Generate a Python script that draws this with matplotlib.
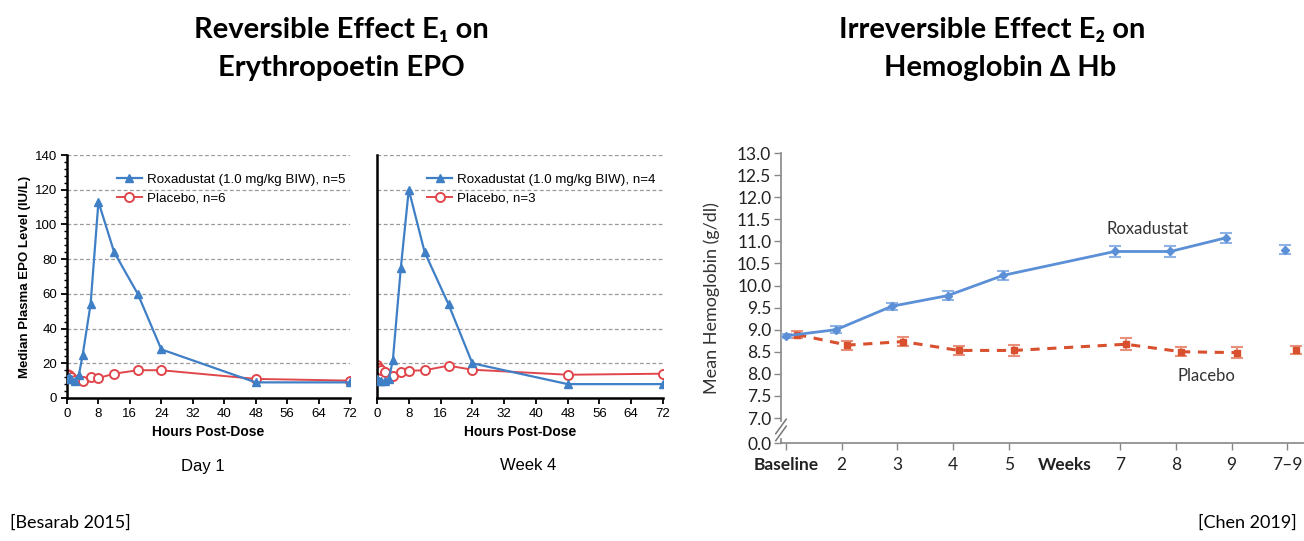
import numpy as np
import matplotlib.pyplot as plt
from matplotlib.ticker import MultipleLocator

W, H = 1304, 541

# EPO panels (Besarab 2015)
hours = [0, 0.5, 1, 2, 3, 4, 6, 8, 12, 18, 24, 48, 72]
roxa_day1 = [11, 12, 11, 10, 13, 25, 54, 113, 84, 60, 28, 9, 9]
plac_hours = [0, 0.5, 1, 2, 4, 6, 8, 12, 18, 24, 48, 72]
plac_day1 = [14, 13, 12, 10.5, 10, 12, 11.5, 14, 16, 16, 11, 10]
roxa_week4 = [11, 9.6, 9.6, 10, 11, 22, 75, 120, 84, 54, 20, 8, 8]
plac_week4 = [19, 17, 16, 15, 12.5, 14.8, 15.7, 16, 18.6, 16.3, 13.4, 14]

# Hemoglobin panel (Chen 2019)
week_labels = ['Baseline', '2', '3', '4', '5', 'Weeks', '7', '8', '9', '7\u20139']
roxa_x = [1.0, 1.9, 2.9, 3.9, 4.9, 6.9, 7.9, 8.9, 9.95]
roxa_hb = [8.86, 9.0, 9.53, 9.77, 10.23, 10.77, 10.77, 11.08, 10.81]
roxa_err = [0.05, 0.08, 0.08, 0.1, 0.1, 0.12, 0.12, 0.12, 0.1]
plac_x = [1.2, 2.1, 3.1, 4.1, 5.1, 7.1, 8.1, 9.1, 10.15]
plac_hb = [8.89, 8.65, 8.73, 8.53, 8.53, 8.67, 8.5, 8.48, 8.54]
plac_err = [0.08, 0.1, 0.1, 0.1, 0.12, 0.14, 0.1, 0.12, 0.1]

BLUE = '#3f7fc6'
RED = '#e0474c'
HB_BLUE = '#5b8fd6'
HB_RED = '#d9502f'
ARIAL = ['Liberation Sans', 'DejaVu Sans']
LATO = ['Lato', 'DejaVu Sans']


def px(x, y):
    return x / W, 1 - y / H


def epo_panel(ax, rox, plac, n_rox, n_plac, show_y):
    ax.set_xlim(0, 72)
    ax.set_ylim(0, 140)
    ax.set_yticks(np.arange(0, 141, 20))
    ax.yaxis.set_minor_locator(MultipleLocator(4))
    ax.set_xticks(np.arange(0, 73, 8))
    for y in range(20, 141, 20):
        ax.axhline(y, color='#9a9a9a', lw=0.9, ls=(0, (3, 2)), zorder=0)
    ax.plot(hours, rox, color=BLUE, lw=1.6, marker='^', ms=6,
            label=f'Roxadustat (1.0 mg/kg BIW), n={n_rox}', zorder=3)
    ax.plot(plac_hours, plac, color=RED, lw=1.4, marker='o', ms=6.5,
            mfc='white', mec=RED, mew=1.4, label=f'Placebo, n={n_plac}', zorder=2)
    for s in ['top', 'right']:
        ax.spines[s].set_visible(False)
    for s in ['left', 'bottom']:
        ax.spines[s].set_linewidth(1.8)
    ax.tick_params(axis='both', which='major', length=4, width=1.3,
                   labelsize=9.5, pad=3)
    ax.tick_params(axis='y', which='minor', length=2, width=1)
    for lab in ax.get_xticklabels() + ax.get_yticklabels():
        lab.set_family(ARIAL)
    if not show_y:
        ax.tick_params(axis='y', which='both', length=0, labelleft=False)
    ax.set_xlabel('Hours Post-Dose', fontsize=10, fontweight='bold',
                  family=ARIAL, labelpad=4)
    ax.legend(frameon=False, loc='upper left', bbox_to_anchor=(0.175, 0.925),
              borderpad=0, borderaxespad=0, handlelength=1.9,
              handletextpad=0.35, labelspacing=0.5,
              prop={'family': ARIAL, 'size': 9.6})


def main():
    fig = plt.figure(figsize=(W / 100, H / 100), dpi=100)

    ax1 = fig.add_axes([67 / W, 143 / H, 283 / W, 243 / H])
    epo_panel(ax1, roxa_day1, plac_day1, 5, 6, True)
    ax1.set_ylabel('Median Plasma EPO Level (IU/L)', fontsize=9.5,
                   fontweight='bold', family=ARIAL, labelpad=3)

    ax2 = fig.add_axes([377 / W, 143 / H, 286 / W, 243 / H])
    epo_panel(ax2, roxa_week4, plac_week4, 4, 3, False)

    # hemoglobin panel with broken y axis (0.0 then 7.0 .. 13.0)
    ax3 = fig.add_axes([781 / W, 98 / H, 523 / W, 290 / H])
    y0 = 6.434
    ax3.set_ylim(y0, 13.0)
    ax3.set_xlim(0.91, 10.3)
    yt = [y0] + list(np.arange(7.0, 13.01, 0.5))
    ax3.set_yticks(yt)
    ax3.set_yticklabels(['0.0'] + [f'{v:.1f}' for v in yt[1:]])
    ax3.set_xticks(range(1, 11))
    ax3.set_xticklabels(week_labels)
    ax3.xaxis.get_major_ticks()[5].tick1line.set_visible(False)
    for i in (0, 5):
        ax3.get_xticklabels()[i].set_fontweight('bold')
    for lab in ax3.get_xticklabels() + ax3.get_yticklabels():
        lab.set_family(LATO)
    ax3.tick_params(axis='both', length=5, width=1, color='#888888',
                    labelsize=12.5, labelcolor='#222222', pad=2)
    ax3.tick_params(axis='x', pad=5)
    for s in ['top', 'right']:
        ax3.spines[s].set_visible(False)
    for s in ['left', 'bottom']:
        ax3.spines[s].set_color('#888888')
        ax3.spines[s].set_linewidth(1.2)

    ax3.errorbar(roxa_x[:-1], roxa_hb[:-1], yerr=roxa_err[:-1], color=HB_BLUE,
                 lw=2, marker='D', ms=4, ecolor='#8fb3e6', elinewidth=1.5,
                 capsize=4, capthick=1.5, zorder=3)
    ax3.errorbar(roxa_x[-1:], roxa_hb[-1:], yerr=roxa_err[-1:], color=HB_BLUE,
                 ls='none', marker='D', ms=4, ecolor='#8fb3e6', elinewidth=1.5,
                 capsize=4, capthick=1.5, zorder=3)
    ax3.errorbar(plac_x[:-1], plac_hb[:-1], yerr=plac_err[:-1], color=HB_RED,
                 lw=2.2, ls=(0, (3, 2.5)), marker='s', ms=5, ecolor='#e8907a',
                 elinewidth=1.5, capsize=4, capthick=1.5, zorder=2)
    ax3.errorbar(plac_x[-1:], plac_hb[-1:], yerr=plac_err[-1:], color=HB_RED,
                 ls='none', marker='s', ms=5, ecolor='#e8907a', elinewidth=1.5,
                 capsize=4, capthick=1.5, zorder=2)
    ax3.text(7.5, 11.28, 'Roxadustat', fontsize=12, color='#333333',
             family=LATO, ha='center', va='center')
    ax3.text(8.55, 7.96, 'Placebo', fontsize=12, color='#333333',
             family=LATO, ha='center', va='center')
    ax3.set_ylabel('Mean Hemoglobin (g/dl)', fontsize=13, color='#333333',
                   family=LATO, labelpad=12)

    # axis break mark
    yb = (6.73 - y0) / (13.0 - y0)
    ax3.plot([0, 0], [yb - 0.02, yb + 0.02], color='white', lw=3,
             transform=ax3.transAxes, clip_on=False, zorder=5)
    for d in (-0.012, 0.012):
        ax3.plot([-0.01, 0.01], [yb + d - 0.025, yb + d + 0.025],
                 color='#777777', lw=1.1, transform=ax3.transAxes,
                 clip_on=False, zorder=6)

    # titles and notes
    title_kw = dict(ha='center', va='center', fontsize=21, fontweight='bold',
                    family=LATO)
    fig.text(*px(341, 30), 'Reversible Effect E\u2081 on', **title_kw)
    fig.text(*px(341, 68), 'Erythropoetin EPO', **title_kw)
    fig.text(*px(992, 30), 'Irreversible Effect E\u2082 on', **title_kw)
    fig.text(*px(1000, 68), 'Hemoglobin \u0394 Hb', **title_kw)

    fig.text(*px(203, 466), 'Day 1', ha='center', va='center', fontsize=12,
             family=ARIAL)
    fig.text(*px(528, 466), 'Week 4', ha='center', va='center', fontsize=12,
             family=ARIAL)
    fig.text(*px(10, 523), '[Besarab 2015]', ha='left', va='center',
             fontsize=13, family=LATO)
    fig.text(*px(1297, 523), '[Chen 2019]', ha='right', va='center',
             fontsize=13, family=LATO)

    fig.savefig('out.png', dpi=100)


if __name__ == "__main__":
    main()
